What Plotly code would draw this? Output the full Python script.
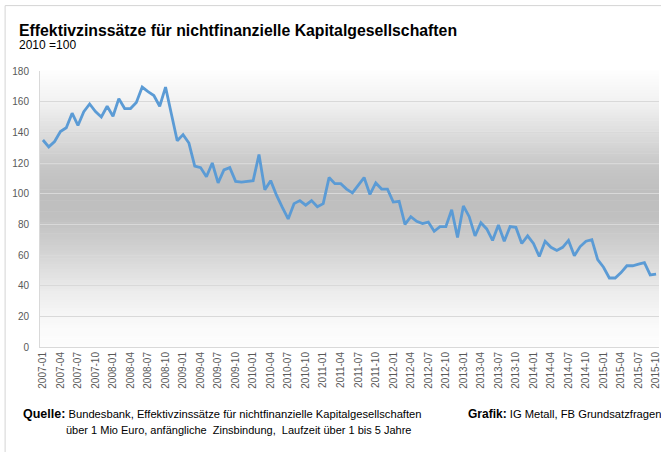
import plotly.graph_objects as go

# ---- data ----
years = list(range(2007, 2016))
months = [f"{y}-{m:02d}" for y in years for m in range(1, 13)][:106]  # 2007-01 .. 2015-10
values = [
    135, 130.5, 134, 140.5, 143, 152.5, 144.5, 153.5, 158.5, 153.5, 150, 157,
    150.5, 162, 155.5, 155.5, 159.5, 169.5, 166.5, 164, 157, 169.5, 152, 134.5,
    138.5, 133, 118, 117, 111, 120, 107, 115.5, 117, 108, 107.5, 108,
    108.5, 125.5, 102.5, 108.5, 99, 91, 83.5, 93.5, 95.5, 92.5, 95.5, 91.5,
    93.5, 110.5, 106.5, 106.5, 103, 100.5, 105.5, 110.5, 99.5, 107, 103, 103,
    94.5, 95, 80, 85, 82, 80.5, 81.5, 75.5, 78.5, 78.5, 89.5, 71.5,
    92, 85, 72.5, 81, 77, 69.5, 79.5, 69, 78.5, 78, 67.5, 72.5,
    67.5, 59, 69, 65, 63, 65, 69.5, 59.5, 65.5, 69, 70, 57,
    52, 45, 45, 48.5, 53, 53, 54, 55, 47, 47.5,
]
tick_labels = months[::3]
y_ticks = [0, 20, 40, 60, 80, 100, 120, 140, 160, 180]

title_text = "Effektivzinssätze für nichtfinanzielle Kapitalgesellschaften"
subtitle_text = "2010 =100"

W, H = 661, 452
L, R, T, B = 40, 0, 70.5, 105
PW, PH = W - L - R, H - T - B

def px(xp):
    return (xp - L) / PW

def py(yp):
    return (H - B - yp) / PH

fig = go.Figure()
fig.add_trace(go.Scatter(
    x=months, y=values, mode="lines",
    line=dict(color="#5b9bd5", width=2.8),
    hoverinfo="skip", showlegend=False,
))

# gradient background (decorative)
stops = [(0.0, 253), (0.08, 250), (0.2, 236), (0.35, 210), (0.47, 192),
         (0.55, 190), (0.65, 198), (0.78, 222), (0.9, 244), (1.0, 253)]
def shade(f):
    for (f0, c0), (f1, c1) in zip(stops[:-1], stops[1:]):
        if f0 <= f <= f1:
            return c0 + (c1 - c0) * (f - f0) / (f1 - f0)
    return stops[-1][1]

shapes = []
N = 100
for k in range(N):
    f0, f1 = k / N, (k + 1) / N
    c = int(round(shade((f0 + f1) / 2)))
    shapes.append(dict(type="rect", xref="x domain", yref="y domain",
                       x0=0, x1=1, y0=f0, y1=f1 + 0.002, layer="below",
                       line=dict(width=0), fillcolor=f"rgb({c},{c},{c})"))
# outer frame
shapes.append(dict(type="line", xref="paper", yref="paper",
                   x0=px(5), x1=px(5), y0=py(5), y1=py(460),
                   line=dict(color="#d4d4d4", width=1)))
shapes.append(dict(type="line", xref="paper", yref="paper",
                   x0=px(5), x1=px(670), y0=py(5), y1=py(5),
                   line=dict(color="#d4d4d4", width=1)))

font_main = "Liberation Sans, Arial, sans-serif"
annotations = [
    dict(text=f"<b>{title_text}</b>", x=px(17), y=py(30), xref="paper", yref="paper",
         xanchor="left", yanchor="middle", showarrow=False,
         font=dict(family=font_main, size=15.8, color="#000000")),
    dict(text=subtitle_text, x=px(17), y=py(44), xref="paper", yref="paper",
         xanchor="left", yanchor="middle", showarrow=False,
         font=dict(family=font_main, size=12, color="#000000")),
    dict(text="<b><span style='font-size:12.5px'>Quelle:</span></b> Bundesbank, Effektivzinssätze für nichtfinanzielle Kapitalgesellschaften",
         x=px(21), y=py(414), xref="paper", yref="paper",
         xanchor="left", yanchor="middle", showarrow=False,
         font=dict(family=font_main, size=11.2, color="#000000")),
    dict(text="über 1 Mio Euro, anfängliche  Zinsbindung,  Laufzeit über 1 bis 5 Jahre",
         x=px(64), y=py(430), xref="paper", yref="paper",
         xanchor="left", yanchor="middle", showarrow=False,
         font=dict(family=font_main, size=11, color="#000000")),
    dict(text="<b><span style='font-size:12px'>Grafik:</span></b> IG Metall, FB Grundsatzfragen",
         x=px(467), y=py(414), xref="paper", yref="paper",
         xanchor="left", yanchor="middle", showarrow=False,
         font=dict(family=font_main, size=11.2, color="#000000")),
]

fig.update_layout(
    width=W, height=H,
    margin=dict(l=L, r=R, t=T, b=B, pad=0),
    paper_bgcolor="#ffffff", plot_bgcolor="#ffffff",
    shapes=shapes, annotations=annotations,
    font=dict(family=font_main, color="#595959"),
)
fig.update_xaxes(
    type="category", categoryorder="array", categoryarray=months,
    range=[-0.5, len(months) - 0.5],
    tickmode="array", tickvals=tick_labels, ticktext=tick_labels,
    tickangle=-90, tickfont=dict(size=10, color="#595959"),
    showgrid=False, showline=True, linecolor="#d9d9d9", linewidth=1,
    ticks="", zeroline=False, fixedrange=True,
)
fig.update_yaxes(
    range=[0, 180], tickmode="array", tickvals=y_ticks,
    tickfont=dict(size=10, color="#595959"),
    showgrid=True, gridcolor="#d9d9d9", gridwidth=1,
    showline=True, linecolor="#d9d9d9", linewidth=1,
    ticks="", ticklabelstandoff=8, zeroline=False, fixedrange=True,
)

fig.write_html(
    "out.html",
    config={"displayModeBar": False},
    post_script="document.body.style.margin='0';document.body.style.overflow='hidden';",
)
